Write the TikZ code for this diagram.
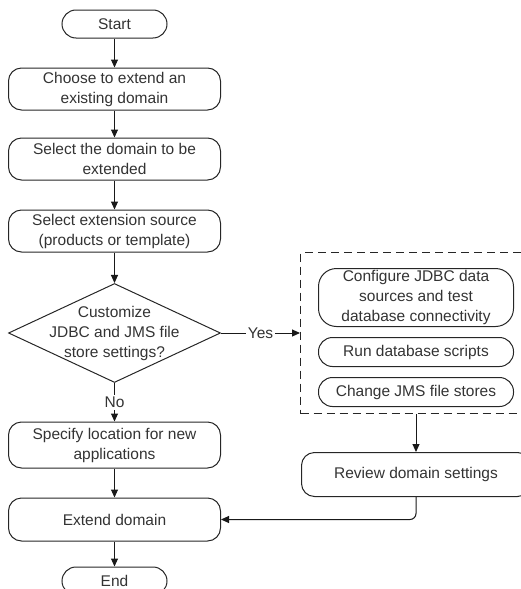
\documentclass[tikz,border=0pt]{standalone}
\usepackage{fontspec}
\setmainfont{Liberation Sans}
\usetikzlibrary{shapes.geometric,arrows.meta,positioning}

\begin{document}
\begin{tikzpicture}[
    x=1pt,y=1pt,
    node distance=28pt,
    every node/.style={align=center,font=\fontsize{15.5}{20}\selectfont,text=black!80},
    terminal/.style={rectangle,rounded corners=14pt,draw=black!85,line width=1pt,minimum width=105pt,minimum height=28pt,inner sep=0pt},
    process/.style={rectangle,rounded corners=13pt,draw=black!85,line width=1pt,minimum width=212pt,minimum height=42pt,inner sep=0pt},
    decision/.style={diamond,draw=black!85,line width=1pt,minimum width=212pt,minimum height=99pt,inner sep=0pt},
    subtask/.style={rectangle,rounded corners=14pt,draw=black!85,line width=1pt,minimum width=195pt,minimum height=29pt,inner sep=0pt},
    group/.style={rectangle,draw=black!85,line width=1pt,dash pattern=on 8pt off 5pt,minimum width=231pt,minimum height=161pt},
    arrow/.style={-{Triangle[length=8pt,width=7pt]},line width=1pt,draw=black!90},
    tag/.style={fill=white,inner sep=2pt}
]
\useasboundingbox (0,0) rectangle (520,-589);

% =====================
% MAIN FLOW
% =====================
\node[terminal] (start) at (114.5,-24) {Start};

\node[process,below=29pt of start] (choose) {Choose to extend an\\existing domain};

\node[process,below=27pt of choose] (select) {Select the domain to be\\extended};

\node[process,below=29pt of select] (source) {Select extension source\\(products or template)};

\node[decision,below=30.5pt of source,
      label={center:Customize\\JDBC and JMS file\\store settings?}] (custom) {};

\node[process,minimum height=46pt,below=38.5pt of custom] (locate) {Specify location for new\\applications};

\node[process,minimum height=43pt,below=29pt of locate] (extend) {Extend domain};

\node[terminal,below=25pt of extend] (end) {End};

% Main connections
\draw[arrow] (start) -- (choose);
\draw[arrow] (choose) -- (select);
\draw[arrow] (select) -- (source);
\draw[arrow] (source) -- (custom);
\draw[arrow] (custom) -- node[tag] {No} (locate);
\draw[arrow] (locate) -- (extend);
\draw[arrow] (extend) -- (end);

% =====================
% OPTIONAL SETTINGS
% =====================
\node[group,right=79pt of custom] (tasks) {};

\node[subtask,minimum height=58pt,rounded corners=18pt,below=16pt of tasks.north] (jdbc) {Configure JDBC data\\sources and test\\database connectivity};

\node[subtask,below=10pt of jdbc] (scripts) {Run database scripts};

\node[subtask,below=10pt of scripts] (stores) {Change JMS file stores};

\node[process,minimum width=229pt,minimum height=44pt,below=38pt of tasks] (review) {Review domain settings};

% Side connections
\draw[arrow] (custom) -- node[tag] {Yes} (tasks);
\draw[arrow] (tasks) -- (review);
\draw[arrow,rounded corners=6pt] (review.south) |- (extend.east);

\end{tikzpicture}
\end{document}
